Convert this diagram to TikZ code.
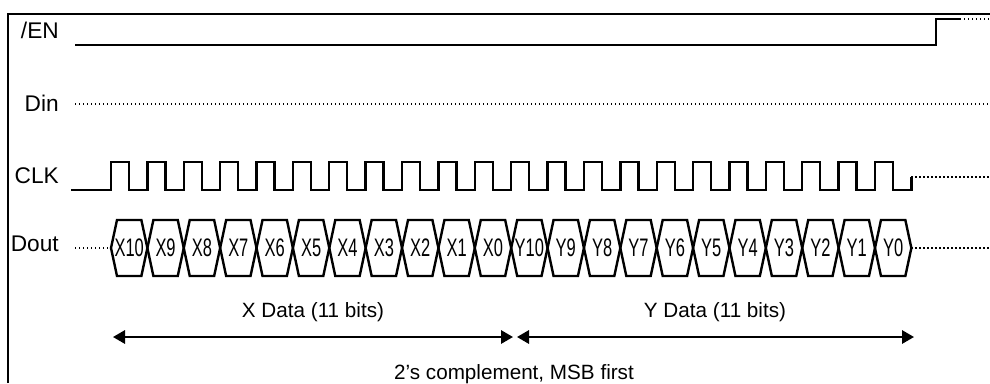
\documentclass[tikz,border=0pt]{standalone}
\usepackage{fontspec}
\setmainfont{Liberation Sans}
\newfontfamily\bitfont[FakeStretch=0.65]{Liberation Sans}
\usetikzlibrary{arrows.meta}
\tikzset{
	sig/.style={
		line width=1.8pt,
		line join=miter,
	},
	dotsig/.style={
		line width=1.3pt,
		dash pattern=on 1.1pt off 1.9pt,
	},
	frame/.style={line width=1.1pt},
	lbl/.style={
		anchor=base east,
		inner sep=0pt,
		font=\fontsize{17}{19}\selectfont,
	},
	bit/.style={
		inner sep=0pt,
		font=\bitfont\fontsize{19}{20}\selectfont,
	},
	span/.style={
		line width=1.6pt,
		{Triangle[length=9pt,width=10pt]}-{Triangle[length=9pt,width=10pt]}
	},
	note/.style={
		anchor=base,
		inner sep=0pt,
		font=\fontsize{15.5}{17}\selectfont,
	},
}

\begin{document}
\begin{tikzpicture}[x=0.75pt,y=-0.75pt]
		\def\per{36.38}
		\useasboundingbox (0,0) rectangle (990,383);

		\draw[frame] 				(8,383) -- (8,14) -- (990,14);

		% signal names
		\node[lbl] 					(en) at (59,38.5) 	{/EN};
		\node[lbl] 					(din) at (59,111) 	{Din};
		\node[lbl] 					(clk) at (59,183) 	{CLK};
		\node[lbl] 					(dout) at (59,251) 	{Dout};

%*********

		\draw[sig] 					(75,45) -- (936,45) -- (936,19) -- (960,19);
		\draw[dotsig] 			(960,19) -- (990,19);

		\draw[dotsig] 			(75,104) -- (990,104);

%*********

		\draw[sig] 					(71,190) -- (111,190)
			\foreach \i in {0,...,21}{
				-- ({111+\i*\per},162) -- ({129+\i*\per},162)
				-- ({129+\i*\per},190) -- ({111+(\i+1)*\per},190)
			}
			-- ({111+22*\per},177) coordinate (clkend);
		\draw[dotsig] 			(clkend) -- (990,177);

%*********

		\draw[dotsig] 			(75,248) -- (111,248);
		\foreach \name [count=\i from 0] in {X10,X9,X8,X7,X6,X5,X4,X3,X2,X1,X0,Y10,Y9,Y8,Y7,Y6,Y5,Y4,Y3,Y2,Y1,Y0}{
			\pgfmathsetmacro\xa{111+\i*\per}
			\pgfmathsetmacro\xb{111+(\i+1)*\per}
			\draw[sig] 				(\xa,248) -- ({\xa+6},220) -- ({\xb-6},220)
				-- (\xb,248) -- ({\xb-6},276) -- ({\xa+6},276) -- cycle;
			\node[bit] 				(bit\name) at ({(\xa+\xb)/2},248) {\name};
		}
		\draw[dotsig] 			({111+22*\per},248) -- (990,248);

%*********

		\coordinate 				(xstart) at (113,337);
		\coordinate 				(xend) at (513,337);
		\coordinate 				(ystart) at (517,337);
		\coordinate 				(yend) at (914,337);

		\draw[span] 				(xstart) -- (xend);
		\draw[span] 				(ystart) -- (yend);

		\node[note] 				(xdata) at (313,317) 	{X Data (11 bits)};
		\node[note] 				(ydata) at (715,317) 	{Y Data (11 bits)};
		\node[note] 				(fmt) at (514,379) 		{2's complement, MSB first};

	\end{tikzpicture}
\end{document}
